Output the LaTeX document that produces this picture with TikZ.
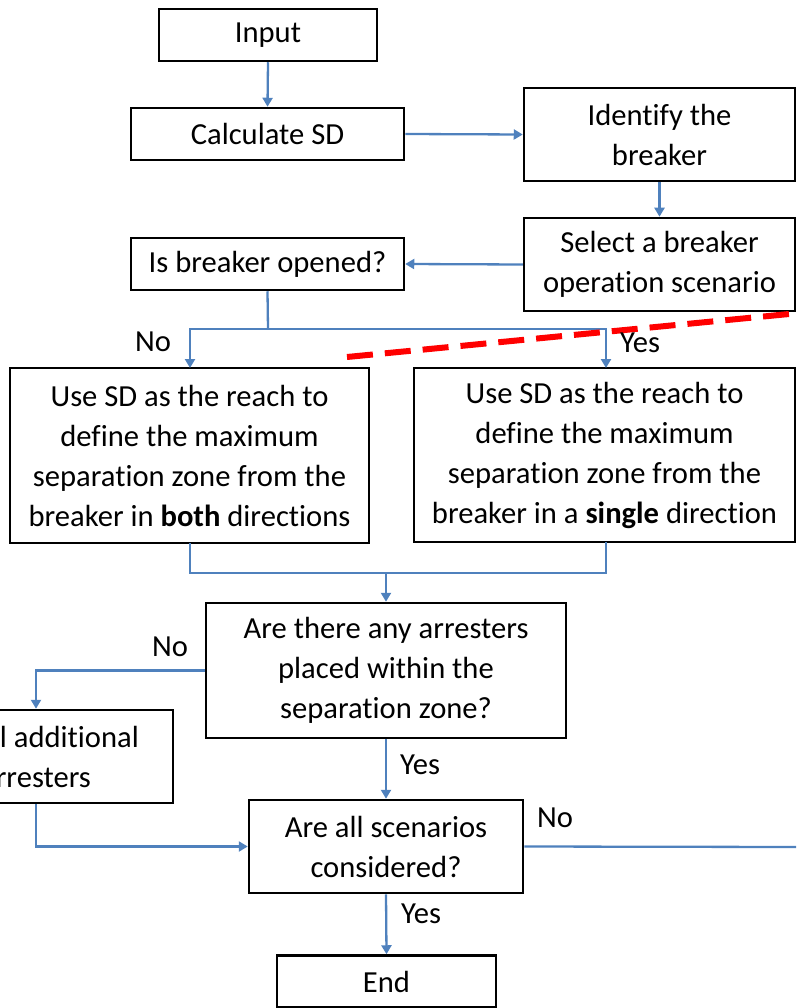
\documentclass[tikz,border=0pt]{standalone}
\usepackage{fontspec}
\setmainfont{Carlito}[RawFeature={-liga;-clig;-calt;-dlig}]
\usetikzlibrary{arrows.meta}
\definecolor{connblue}{HTML}{4F81BD}
\definecolor{dashred}{HTML}{FF0000}
\tikzset{
  box/.style={draw=black, line width=2.5pt, fill=white, inner sep=0pt, align=center,
    font=\fontsize{30.6}{40}\selectfont},
  lbl/.style={inner sep=0pt, font=\fontsize{30.6}{40}\selectfont},
  conn/.style={draw=connblue, line width=2.3pt},
  arr/.style={conn, -{Triangle[width=10pt,length=9pt]}},
  reddash/.style={draw=dashred, line width=6pt, dash pattern=on 26pt off 12pt}
}
\begin{document}
\begin{tikzpicture}[x=1pt,y=-1pt]
\useasboundingbox (0,0) rectangle (796,1008);
\clip (0,0) rectangle (796,1008);
% nodes
\node[box, minimum width=218pt, minimum height=52pt] (input) at (268,35) {Input};
\node[box, minimum width=273pt, minimum height=52pt] (calc) at (267.5,134) {Calculate SD};
\node[box, minimum width=271pt, minimum height=93pt] (ident) at (659.5,134.5) {Identify the\\breaker};
\node[box, minimum width=271pt, minimum height=93pt] (select) at (659.5,264.5) {Select a breaker\\operation scenario};
\node[box, minimum width=273pt, minimum height=52pt] (isopen) at (267.5,264) {Is breaker opened?};
\node[box, minimum width=359pt, minimum height=175pt] (both) at (189.5,455.5) {Use SD as the reach to\\define the maximum\\separation zone from the\\breaker in \textbf{both} directions};
\node[box, minimum width=381pt, minimum height=174pt] (single) at (604.5,455) {Use SD as the reach to\\define the maximum\\separation zone from the\\breaker in a \textbf{single} direction};
\node[box, minimum width=360pt, minimum height=135pt] (anyarr) at (386,670.5) {Are there any arresters\\placed within the\\separation zone?};
\node[box, minimum width=274pt, minimum height=93pt] (install) at (36,756.5) {Install additional\\arresters};
\node[box, minimum width=274pt, minimum height=93pt] (allsc) at (386,846.5) {Are all scenarios\\considered?};
\node[box, minimum width=219pt, minimum height=52pt] (end) at (386.5,981.5) {End};
% helper coordinates
\coordinate (split) at (268,329);
\coordinate (merge) at (386,573);
\coordinate (offright) at (800,847);
\coordinate (redA) at (347,357);
\coordinate (redB) at (820,311);
% connectors
\draw[arr] (input.south) -- (calc.north);
\draw[arr] (calc.east) -- (ident.west);
\draw[arr] (ident.south) -- (select.north);
\draw[arr] (select.west) -- (isopen.east);
\draw[conn] (isopen.south) -- (split);
\draw[arr] (split) -| (190,368);
\draw[arr] (split) -| (606,368);
\draw[conn] (190,543) |- (merge);
\draw[conn] (606,542) |- (merge);
\draw[arr] (merge) -- (anyarr.north);
\draw[arr] (anyarr.west) -| (install.north);
\draw[arr] (anyarr.south) -- (allsc.north);
\draw[arr] (install.south) |- (allsc.west);
\draw[arr] (allsc.south) -- (end.north);
\draw[conn] (allsc.east) -- (offright);
% red dashed line
\draw[reddash] (redA) -- (redB);
% labels
\node[lbl] (noA) at (153,342) {No};
\node[lbl] (yesA) at (640,343) {Yes};
\node[lbl] (noB) at (170,647) {No};
\node[lbl] (yesB) at (420,765) {Yes};
\node[lbl] (noC) at (555,818) {No};
\node[lbl] (yesC) at (421,914) {Yes};
\end{tikzpicture}
\end{document}
